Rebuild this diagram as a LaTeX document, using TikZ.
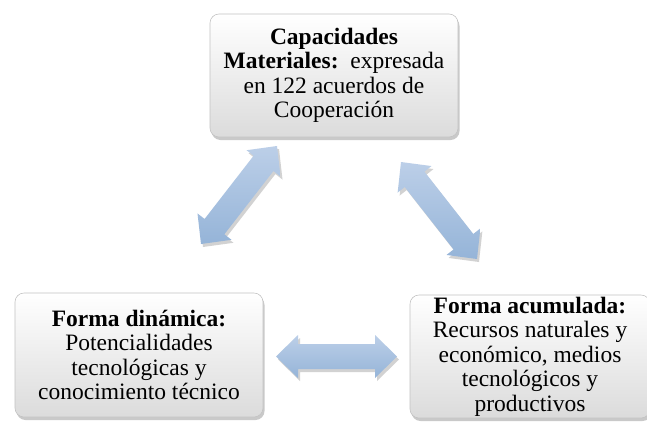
\documentclass[tikz,border=0pt]{standalone}
\usepackage{fontspec}
\setmainfont{Liberation Serif}
\usepackage{tikz}
\usetikzlibrary{calc,shadows}
\definecolor{arrowtop}{RGB}{188,207,232}
\definecolor{arrowbot}{RGB}{149,180,216}
\definecolor{boxline}{RGB}{195,195,195}

\newcommand{\blockarr}[2]{%
\path[arrow fill] (#1)
  -- ($(#1)!22pt!(#2)!21.5pt!90:(#2)$)
  -- ($(#1)!22pt!(#2)!12.5pt!90:(#2)$)
  -- ($(#2)!22pt!(#1)!12.5pt!-90:(#1)$)
  -- ($(#2)!22pt!(#1)!21.5pt!-90:(#1)$)
  -- (#2)
  -- ($(#2)!22pt!(#1)!21.5pt!90:(#1)$)
  -- ($(#2)!22pt!(#1)!12.5pt!90:(#1)$)
  -- ($(#1)!22pt!(#2)!12.5pt!-90:(#2)$)
  -- ($(#1)!22pt!(#2)!21.5pt!-90:(#2)$)
  -- cycle;}

\begin{document}
\begin{tikzpicture}[x=1pt, y=-1pt,
  box node/.style={rectangle, rounded corners=9pt, draw=boxline, line width=.6pt,
    top color=white, bottom color=black!14, inner sep=0pt, align=center,
    font=\fontsize{23.5}{24.5}\selectfont,
    drop shadow={shadow xshift=1.5pt, shadow yshift=-3pt, opacity=.35, fill=black!60}},
  arrow fill/.style={top color=arrowtop, bottom color=arrowbot,
    drop shadow={shadow xshift=2pt, shadow yshift=-3pt, opacity=.25, fill=black!70}}]
\clip (0,0) rectangle (647,421);
\fill[white] (0,0) rectangle (647,421);
\begin{scope}
\node[box node, minimum width=248pt, minimum height=123pt] (mat) at (334,75.5)
  {\textbf{Capacidades}\\ \textbf{Materiales:}\ \ expresada\\ en 122 acuerdos de\\ Cooperación};
\node[box node, minimum width=248pt, minimum height=124pt] (din) at (139,355)
  {\textbf{Forma dinámica:}\\ Potencialidades\\ tecnológicas y\\ conocimiento técnico};
\node[box node, minimum width=240pt, minimum height=123pt] (acu) at (530,356.5)
  {\textbf{Forma acumulada:}\\ Recursos naturales y\\ económico, medios\\ tecnológicos y\\ productivos};
\end{scope}
\begin{scope}
\coordinate (izq-a) at (201,244);
\coordinate (izq-b) at (277,146);
\coordinate (der-a) at (401,162);
\coordinate (der-b) at (477,259);
\coordinate (inf-a) at (276,356.5);
\coordinate (inf-b) at (397,356.5);
\blockarr{izq-a}{izq-b}
\blockarr{der-a}{der-b}
\blockarr{inf-a}{inf-b}
\end{scope}
\end{tikzpicture}
\end{document}
